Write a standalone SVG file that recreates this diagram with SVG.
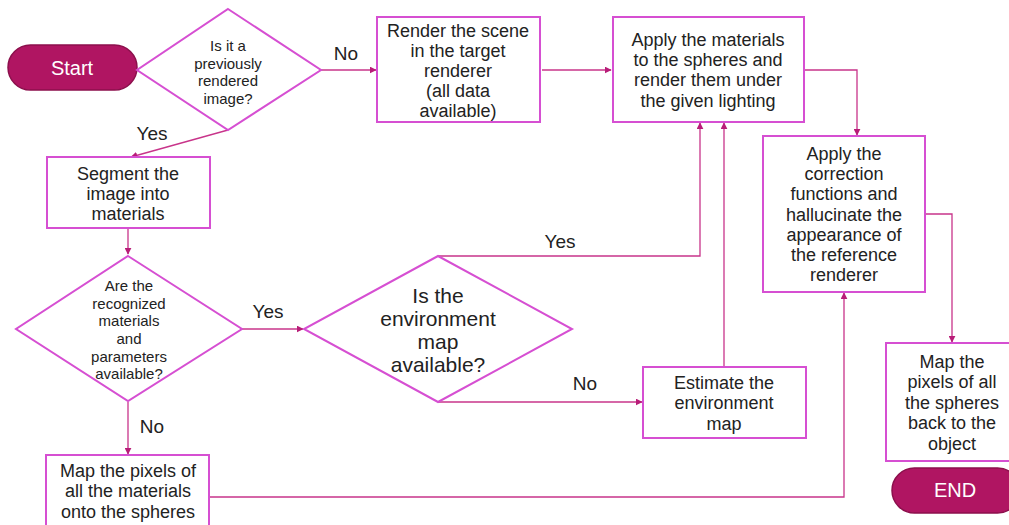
<svg xmlns="http://www.w3.org/2000/svg" width="1009" height="525" viewBox="0 0 1009 525">
  <defs>
    <marker id="arrow" viewBox="0 0 10 10" refX="9" refY="5" markerWidth="7" markerHeight="7" markerUnits="userSpaceOnUse" orient="auto">
      <path d="M0,0 L10,5 L0,10 z" fill="#B81D78"/>
    </marker>
    <style>
      .node { fill: #ffffff; stroke: #D64FD2; stroke-width: 2; }
      .term { fill: #B01562; stroke: #8C0F4C; stroke-width: 1.5; }
      .conn { fill: none; stroke: #C8348A; stroke-width: 1.3; }
      .t { font-family: "Liberation Sans", Arial, sans-serif; fill: #222222; text-anchor: middle; dominant-baseline: central; font-size: 18px; }
      .t.q1 { font-size: 15px; }
      .t.q2 { font-size: 15px; }
      .t.q3 { font-size: 21px; }
      .tt { font-family: "Liberation Sans", Arial, sans-serif; fill: #ffffff; text-anchor: middle; dominant-baseline: central; font-size: 20px; }
      .lbl { font-family: "Liberation Sans", Arial, sans-serif; fill: #222222; font-size: 19px; dominant-baseline: central; text-anchor: middle; }
    </style>
  </defs>
  <rect width="1009" height="525" fill="#ffffff"/>

  <!-- connectors -->
  <g id="connectors">
    <line class="conn" x1="321" y1="70" x2="376" y2="70" marker-end="url(#arrow)"/>
    <line class="conn" x1="542" y1="70" x2="611" y2="70" marker-end="url(#arrow)"/>
    <polyline class="conn" points="805,70 857,70 857,135" marker-end="url(#arrow)"/>
    <polyline class="conn" points="926,214 952,214 952,342" marker-end="url(#arrow)"/>
    <line class="conn" x1="228" y1="130" x2="131" y2="157" marker-end="url(#arrow)"/>
    <line class="conn" x1="128" y1="229" x2="128" y2="254" marker-end="url(#arrow)"/>
    <line class="conn" x1="242" y1="329" x2="303" y2="329" marker-end="url(#arrow)"/>
    <line class="conn" x1="128" y1="402" x2="128" y2="454" marker-end="url(#arrow)"/>
    <polyline class="conn" points="438,256 700,256 700,123" marker-end="url(#arrow)"/>
    <line class="conn" x1="438" y1="402" x2="642" y2="402" marker-end="url(#arrow)"/>
    <line class="conn" x1="724" y1="367" x2="724" y2="123" marker-end="url(#arrow)"/>
    <polyline class="conn" points="210,497 844,497 844,293" marker-end="url(#arrow)"/>
    <text class="lbl" x="346" y="53">No</text>
    <text class="lbl" x="152" y="133">Yes</text>
    <text class="lbl" x="268" y="311">Yes</text>
    <text class="lbl" x="560" y="241">Yes</text>
    <text class="lbl" x="585" y="383">No</text>
    <text class="lbl" x="152" y="426">No</text>
  </g>

  <g id="start">
    <rect class="term" x="8" y="45" width="129" height="45" rx="22.5"/>
    <text class="tt" x="72" y="68">Start</text>
  </g>

  <g id="previously-rendered">
    <polygon class="node" points="228,9 321,70 228,130 137,70"/>
    <text class="t q1" x="228" y="45">Is it a</text>
    <text class="t q1" x="228" y="63">previously</text>
    <text class="t q1" x="228" y="80">rendered</text>
    <text class="t q1" x="228" y="98">image?</text>
  </g>

  <g id="render-scene">
    <rect class="node" x="377" y="17" width="163" height="105"/>
    <text class="t" x="458" y="31">Render the scene</text>
    <text class="t" x="458" y="51">in the target</text>
    <text class="t" x="458" y="71">renderer</text>
    <text class="t" x="458" y="91">(all data</text>
    <text class="t" x="458" y="111">available)</text>
  </g>

  <g id="apply-materials">
    <rect class="node" x="613" y="17" width="191" height="105"/>
    <text class="t" x="708" y="40">Apply the materials</text>
    <text class="t" x="708" y="60">to the spheres and</text>
    <text class="t" x="708" y="80">render them under</text>
    <text class="t" x="708" y="101">the given lighting</text>
  </g>

  <g id="apply-correction">
    <rect class="node" x="763" y="136" width="162" height="156"/>
    <text class="t" x="844" y="154">Apply the</text>
    <text class="t" x="844" y="174">correction</text>
    <text class="t" x="844" y="194">functions and</text>
    <text class="t" x="844" y="215">hallucinate the</text>
    <text class="t" x="844" y="235">appearance of</text>
    <text class="t" x="844" y="255">the reference</text>
    <text class="t" x="844" y="275">renderer</text>
  </g>

  <g id="segment">
    <rect class="node" x="47" y="157" width="163" height="71"/>
    <text class="t" x="128" y="174">Segment the</text>
    <text class="t" x="128" y="194">image into</text>
    <text class="t" x="128" y="214">materials</text>
  </g>

  <g id="materials-available">
    <polygon class="node" points="128,256 242,329 128,401 16,329"/>
    <text class="t q2" x="129" y="285">Are the</text>
    <text class="t q2" x="129" y="303">recognized</text>
    <text class="t q2" x="129" y="320">materials</text>
    <text class="t q2" x="129" y="338">and</text>
    <text class="t q2" x="129" y="356">parameters</text>
    <text class="t q2" x="129" y="373">available?</text>
  </g>

  <g id="envmap-available">
    <polygon class="node" points="438,256 572,329 438,402 304,329"/>
    <text class="t q3" x="438" y="295">Is the</text>
    <text class="t q3" x="438" y="318">environment</text>
    <text class="t q3" x="438" y="341">map</text>
    <text class="t q3" x="438" y="364">available?</text>
  </g>

  <g id="estimate-envmap">
    <rect class="node" x="643" y="367" width="163" height="71"/>
    <text class="t" x="724" y="383">Estimate the</text>
    <text class="t" x="724" y="403">environment</text>
    <text class="t" x="724" y="424">map</text>
  </g>

  <g id="map-materials">
    <rect class="node" x="46" y="455" width="163" height="72"/>
    <text class="t" x="128" y="471">Map the pixels of</text>
    <text class="t" x="128" y="491">all the materials</text>
    <text class="t" x="128" y="512">onto the spheres</text>
  </g>

  <g id="map-back">
    <rect class="node" x="886" y="343" width="132" height="118"/>
    <text class="t" x="952" y="362">Map the</text>
    <text class="t" x="952" y="382">pixels of all</text>
    <text class="t" x="952" y="403">the spheres</text>
    <text class="t" x="952" y="423">back to the</text>
    <text class="t" x="952" y="444">object</text>
  </g>

  <g id="end">
    <rect class="term" x="892" y="468" width="128" height="45" rx="22.5"/>
    <text class="tt" x="955" y="490">END</text>
  </g>
</svg>
